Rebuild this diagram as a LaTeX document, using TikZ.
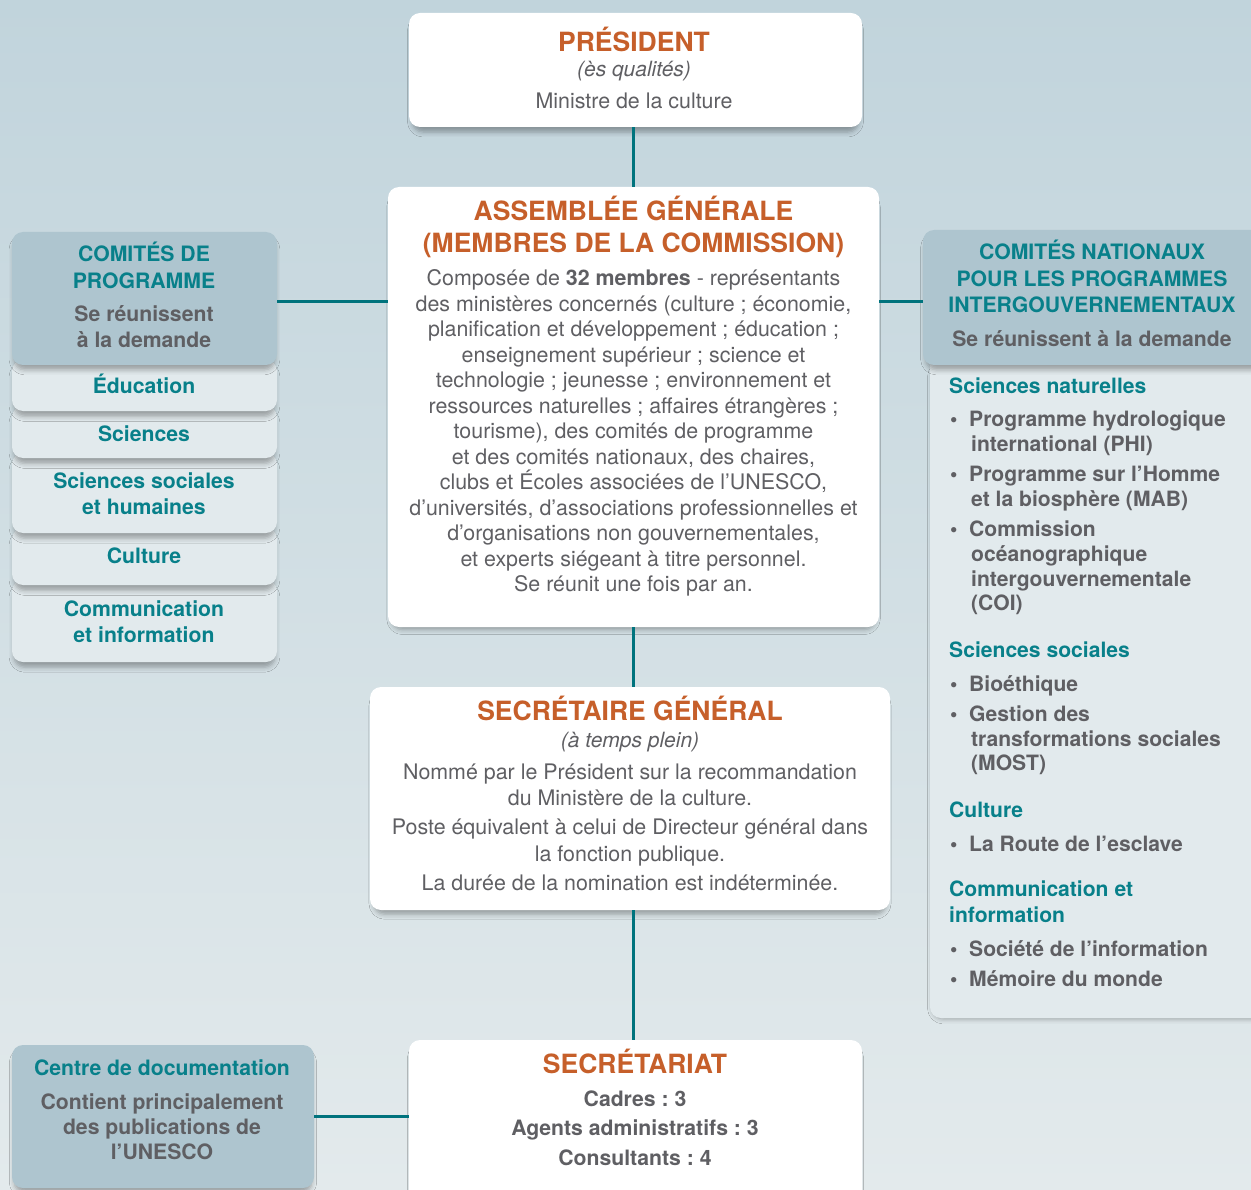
\documentclass[tikz,border=0pt]{standalone}
\usepackage{fontspec}
\setmainfont{TeX Gyre Heros}
\frenchspacing
\usepackage{xcolor}
\definecolor{cnbgtop}{HTML}{C1D4DC}
\definecolor{cnbgbot}{HTML}{E3EAEC}
\definecolor{cnteal}{HTML}{08808A}
\definecolor{cnline}{HTML}{00737D}
\definecolor{cnorange}{HTML}{C65F2A}
\definecolor{cngray}{HTML}{5F5F63}
\definecolor{cnhead}{HTML}{AEC5CF}
\definecolor{cnpale}{HTML}{E2EAED}
\usepackage{tikz}
\usetikzlibrary{calc,shadows.blur}

% stacked lines, baseline = first line
\newcommand{\cstk}[2]{\vtop{\hsize=#1\parindent=0pt\parskip=0pt\centering\lineskiplimit=-99pt\noindent#2\par}}
\newcommand{\lstk}[2]{\vtop{\hsize=#1\parindent=0pt\parskip=0pt\raggedright\lineskiplimit=-99pt\noindent#2\par}}
\newcommand{\itm}{\hspace*{1pt}\makebox[19pt][l]{\textbullet}}
\newcommand{\cont}{\hspace*{22pt}}

\begin{document}
\begin{tikzpicture}[x=1pt,y=-1pt,
  box/.style={rounded corners=11pt,fill=white,inner sep=0pt,
    blur shadow={shadow xshift=0pt,shadow yshift=-6pt,shadow scale=0.985,shadow blur radius=5pt,shadow opacity=32}},
  headbox/.style={box,fill=cnhead},
  subbox/.style={box,fill=cnpale},
  link/.style={draw=cnline,line width=3pt},
  ttl/.style={inner sep=0pt,anchor=base,text=cnorange,font=\bfseries\fontsize{26.5}{31.5}\selectfont},
  subtxt/.style={inner sep=0pt,anchor=base,text=cngray,font=\itshape\fontsize{21}{25}\selectfont},
  bodytxt/.style={inner sep=0pt,anchor=base,text=cngray,font=\fontsize{21.4}{25.5}\selectfont},
  tealtxt/.style={inner sep=0pt,anchor=base,text=cnteal,font=\bfseries\fontsize{21.2}{26.6}\selectfont},
  greytxt/.style={inner sep=0pt,anchor=base,text=cngray,font=\bfseries\fontsize{21.2}{26}\selectfont},
  listtxt/.style={inner sep=0pt,anchor=base west,text=cngray,font=\bfseries\fontsize{21.1}{24.8}\selectfont},
]
\useasboundingbox (0,0) rectangle (1251,1190);
\clip (0,0) rectangle (1251,1190);
\fill[top color=cnbgtop,bottom color=cnbgbot] (0,0) rectangle (1251,1190);

% centre column
\node[box,minimum width=453pt,minimum height=114pt] (pres) at (635.5,70) {};
\node[box,minimum width=491pt,minimum height=440pt] (assem) at (633.5,407) {};
\node[box,minimum width=520pt,minimum height=223pt] (sg) at (630,798.5) {};
\node[box,minimum width=453pt,minimum height=170pt] (secr) at (635.5,1125) {};

% left: comites de programme (drawn bottom up)
\node[subbox,minimum width=265pt,minimum height=82pt] (comm) at (144.5,621) {};
\node[subbox,minimum width=265pt,minimum height=57pt] (cult) at (144.5,556.5) {};
\node[subbox,minimum width=265pt,minimum height=80pt] (ssh) at (144.5,493) {};
\node[subbox,minimum width=265pt,minimum height=52pt] (sci) at (144.5,432) {};
\node[subbox,minimum width=265pt,minimum height=51pt] (educ) at (144.5,385.5) {};
\node[headbox,minimum width=265pt,minimum height=133pt] (lhead) at (144.5,298.5) {};

% right: comites nationaux
\node[subbox,minimum width=335pt,minimum height=663pt] (rbody) at (1097.5,686.5) {};
\node[headbox,minimum width=342pt,minimum height=135pt] (rhead) at (1094,297.5) {};

% centre de documentation
\node[headbox,minimum width=302pt,minimum height=143pt] (doc) at (163,1116.5) {};

% connectors
\draw[link] (assem.north |- pres.south) -- (assem.north);
\draw[link] (assem.south) -- (assem.south |- sg.north);
\draw[link] (assem.south |- sg.south) -- (assem.south |- secr.north);
\draw[link] ([yshift=-3.5pt]lhead.east) -- ([yshift=-3.5pt]lhead.east -| assem.west);
\draw[link] ([yshift=-4.5pt]rhead.west -| assem.east) -- ([yshift=-4.5pt]rhead.west);
\draw[link] (doc.east) -- (doc.east -| secr.west);

% texts
\node[ttl] (pres-t) at (634,52) {PRÉSIDENT};
\node[subtxt] (pres-s) at (634,77) {(ès qualités)};
\node[bodytxt] (pres-b) at (634,109) {Ministre de la culture};

\node[ttl] (assem-t) at (633.5,221) {\cstk{480pt}{ASSEMBLÉE GÉNÉRALE\\(MEMBRES DE LA COMMISSION)}};
\node[bodytxt] (assem-b) at (633.5,286) {\cstk{480pt}{Composée de \textbf{32 membres} - représentants\\
des ministères concernés (culture ; économie,\\
planification et développement ; éducation ;\\
enseignement supérieur ; science et\\
technologie ; jeunesse ; environnement et\\
ressources naturelles ; affaires étrangères ;\\
tourisme), des comités de programme\\
et des comités nationaux, des chaires,\\
clubs et Écoles associées de l’UNESCO,\\
d’universités, d’associations professionnelles et\\
d’organisations non gouvernementales,\\
et experts siégeant à titre personnel.\\
Se réunit une fois par an.}};

\node[ttl] (sg-t) at (630,720) {SECRÉTAIRE GÉNÉRAL};
\node[subtxt] (sg-s) at (630,747) {(à temps plein)};
\node[bodytxt,font=\fontsize{21.4}{26.7}\selectfont] (sg-b) at (630,779) {\cstk{510pt}{Nommé par le Président sur la recommandation\\
du Ministère de la culture.\\[2.5pt]
Poste équivalent à celui de Directeur général dans\\
la fonction publique.\\[2pt]
La durée de la nomination est indéterminée.}};

\node[ttl] (secr-t) at (635,1073) {SECRÉTARIAT};
\node[greytxt,font=\bfseries\fontsize{21.2}{29.7}\selectfont] (secr-b) at (635,1106) {\cstk{400pt}{Cadres : 3\\Agents administratifs : 3\\Consultants : 4}};

\node[tealtxt] (lhead-t) at (144,262) {\cstk{250pt}{COMITÉS DE\\PROGRAMME}};
\node[greytxt] (lhead-b) at (144,322) {\cstk{250pt}{Se réunissent\\à la demande}};
\node[tealtxt] (educ-t) at (144,393) {Éducation};
\node[tealtxt] (sci-t) at (144,441) {Sciences};
\node[tealtxt] (ssh-t) at (144,488) {\cstk{250pt}{Sciences sociales\\et humaines}};
\node[tealtxt] (cult-t) at (144,563) {Culture};
\node[tealtxt] (comm-t) at (144,616) {\cstk{250pt}{Communication\\et information}};

\node[tealtxt,font=\bfseries\fontsize{21.2}{26.4}\selectfont] (rhead-t) at (1092,260) {\cstk{330pt}{COMITÉS NATIONAUX\\POUR LES PROGRAMMES\\INTERGOUVERNEMENTAUX}};
\node[greytxt] (rhead-b) at (1092,347) {Se réunissent à la demande};
\node[listtxt] (rbody-t) at (949,393) {\lstk{300pt}{{\color{cnteal}Sciences naturelles}\\[9.2pt]
\itm Programme hydrologique\\
\cont international (PHI)\\[5.2pt]
\itm Programme sur l’Homme\\
\cont et la biosphère (MAB)\\[5.2pt]
\itm Commission\\
\cont océanographique\\
\cont intergouvernementale\\
\cont (COI)\\[21.5pt]
{\color{cnteal}Sciences sociales}\\[9.2pt]
\itm Bioéthique\\[5.2pt]
\itm Gestion des\\
\cont transformations sociales\\
\cont (MOST)\\[21.5pt]
{\color{cnteal}Culture}\\[9.2pt]
\itm La Route de l’esclave\\[20.2pt]
{\color{cnteal}Communication et}\\[1.8pt]
{\color{cnteal}information}\\[8.6pt]
\itm Société de l’information\\[5.2pt]
\itm Mémoire du monde}};

\node[tealtxt] (doc-t) at (162,1075) {Centre de documentation};
\node[greytxt,font=\bfseries\fontsize{21.2}{25.2}\selectfont] (doc-b) at (162,1109) {\cstk{290pt}{Contient principalement\\des publications de\\l’UNESCO}};
\end{tikzpicture}
\end{document}
